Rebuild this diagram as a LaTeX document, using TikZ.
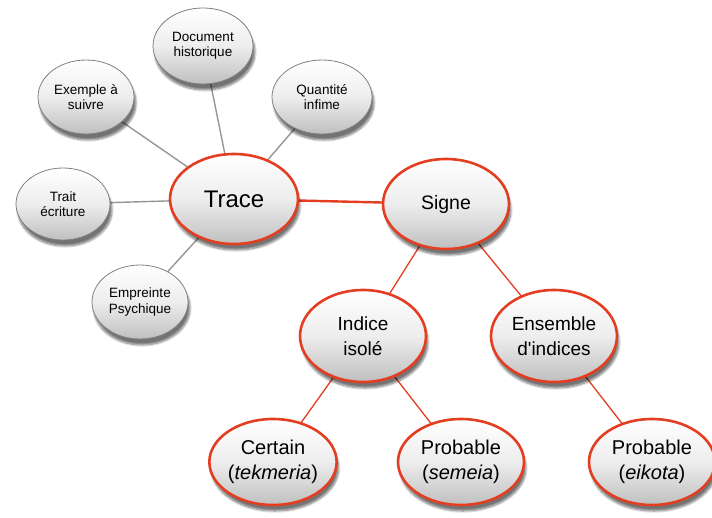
\documentclass[tikz,border=0pt]{standalone}
\usepackage{fontspec}
\setmainfont{Liberation Sans}
\usetikzlibrary{shapes.geometric,shadows.blur}
\definecolor{rouge}{RGB}{228,62,34}
\definecolor{lgray}{RGB}{150,150,150}
\tikzset{
  bubble/.style={ellipse, inner sep=0pt, align=center, top color=white, bottom color=black!25,
     middle color=black!7, blur shadow={shadow xshift=2pt, shadow yshift=-6pt, shadow blur steps=8, shadow opacity=55}},
  sat/.style={bubble, draw=black!50, line width=0.8pt, minimum width=96pt, minimum height=74pt, font=\fontsize{13.5}{15.5}\selectfont},
  main/.style={bubble, draw=rouge, line width=2.6pt, minimum width=126pt, minimum height=90pt},
  gline/.style={draw=lgray, line width=1.4pt},
  rline/.style={draw=rouge, line width=1.3pt},
}
\begin{document}
\begin{tikzpicture}[x=1pt,y=-1pt]
\useasboundingbox (0,0) rectangle (712,517);
% connectors first
\coordinate (cTrace) at (234,199);
\coordinate (cDoc) at (203,46);
\coordinate (cEx) at (86,97);
\coordinate (cQt) at (322,97);
\coordinate (cTr) at (63,204);
\coordinate (cEm) at (140,302);
\coordinate (cSi) at (446,204);
\coordinate (cIn) at (363,336);
\coordinate (cEn) at (554,336);
\coordinate (cCe) at (273,462);
\coordinate (cPs) at (461,462);
\coordinate (cPe) at (652,462);
\draw[gline] (cTrace) -- (cDoc);
\draw[gline] (cTrace) -- (cEx);
\draw[gline] (cTrace) -- (cQt);
\draw[gline] (cTrace) -- (cTr);
\draw[gline] (cTrace) -- (cEm);
\draw[rouge, line width=2.4pt] (cTrace) -- (cSi);
\draw[rline] (cSi) -- (cIn);
\draw[rline] (cSi) -- (cEn);
\draw[rline] (cIn) -- (cCe);
\draw[rline] (cIn) -- (cPs);
\draw[rline] (cEn) -- (cPe);
% nodes
\node[sat, minimum width=100pt, minimum height=76pt] (doc) at (cDoc) {Document\\historique};
\node[sat] (ex) at (cEx) {Exemple à\\suivre};
\node[sat, minimum width=100pt] (qt) at (cQt) {Quantité\\infime};
\node[sat, minimum width=94pt, minimum height=72pt] (tr) at (cTr) {Trait\\écriture};
\node[sat] (em) at (cEm) {Empreinte\\Psychique};
\node[main, minimum width=128pt, minimum height=90pt, font=\fontsize{24}{28}\selectfont] (trace) at (cTrace) {Trace};
\node[main, font=\fontsize{19.5}{22}\selectfont] (si) at (cSi) {Signe};
\node[main, minimum height=92pt, font=\fontsize{19}{25}\selectfont] (in) at (cIn) {Indice\\isolé};
\node[main, minimum height=92pt, font=\fontsize{19}{25}\selectfont] (en) at (cEn) {Ensemble\\d\textquotesingle indices};
\node[main, minimum height=86pt, font=\fontsize{20}{25}\selectfont] (ce) at (cCe) {Certain\\(\textit{tekmeria})};
\node[main, minimum height=86pt, font=\fontsize{20}{25}\selectfont] (ps) at (cPs) {Probable\\(\textit{semeia})};
\node[main, minimum height=86pt, font=\fontsize{20}{25}\selectfont] (pe) at (cPe) {Probable\\(\textit{eikota})};
\end{tikzpicture}
\end{document}
